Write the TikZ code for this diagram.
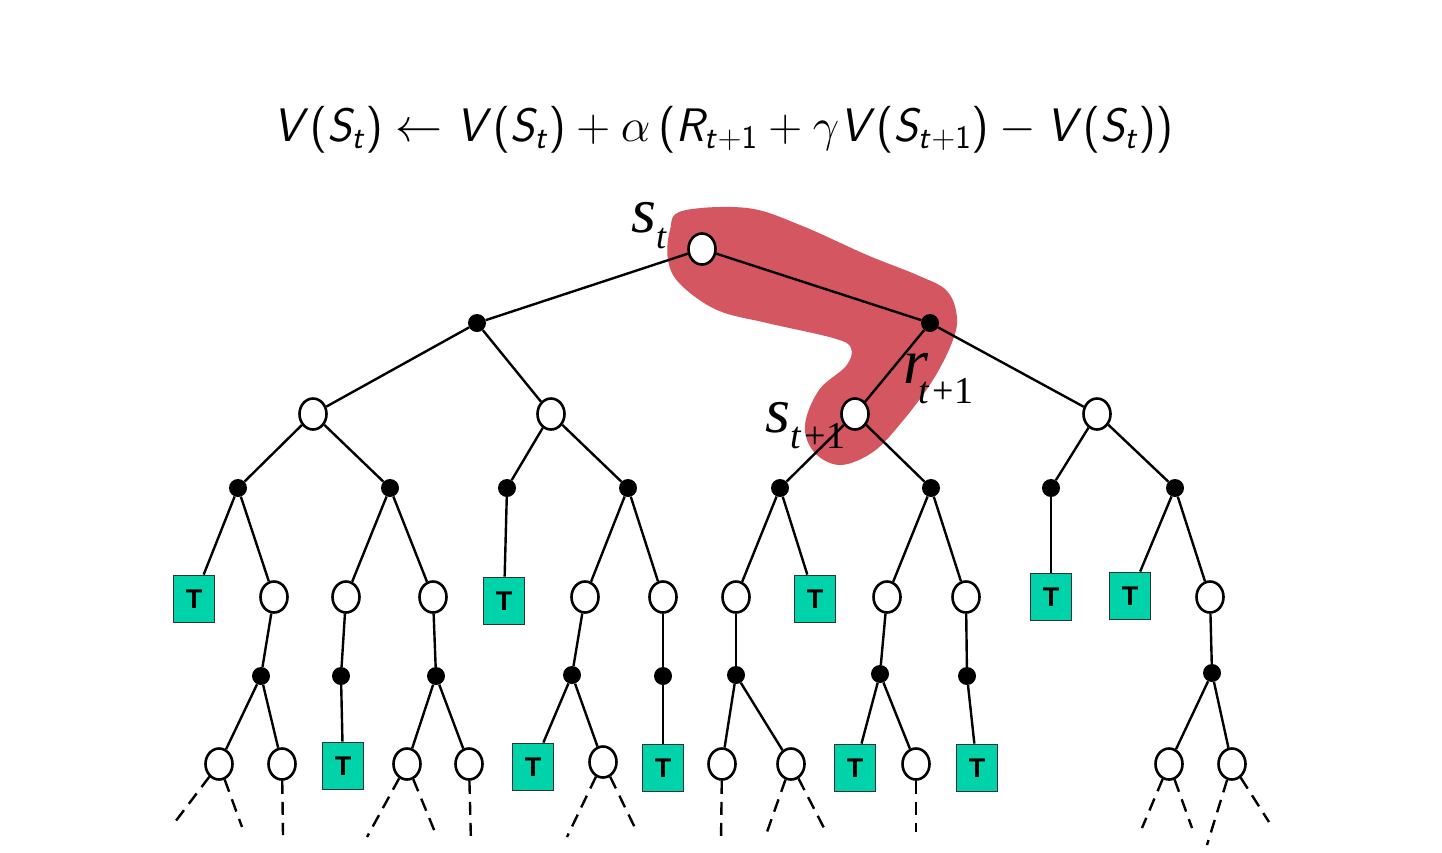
\RequirePackage{fix-cm}
\documentclass[tikz,border=0pt]{standalone}
\usepackage{amsmath}
\usepackage[no-math]{fontspec}
\newfontfamily\tms{Liberation Serif}
\newfontfamily\arl{Liberation Sans}
\usetikzlibrary{shapes.geometric}
\DeclareMathAlphabet{\mathsfit}{OT1}{cmss}{m}{sl}
\SetSymbolFont{operators}{normal}{OT1}{cmss}{m}{n}
\newcommand\msf[1]{\mathsfit{#1}}
\definecolor{blobred}{HTML}{D45660}
\definecolor{tgreen}{HTML}{00D2AA}
\begin{document}
\begin{tikzpicture}[x=1pt,y=-1pt,
  onode/.style={ellipse,draw=black,line width=2.6pt,fill=white,minimum width=27pt,minimum height=31pt,inner sep=0pt},
  cnode/.style={circle,fill=black,minimum size=18pt,inner sep=0pt},
  tnode/.style={rectangle,draw=black!80,line width=1.8pt,fill=tgreen,minimum width=41pt,minimum height=47pt,inner sep=0pt,font=\arl\bfseries\fontsize{27}{27}\selectfont},
  edge/.style={line width=2.4pt},
  leafdash/.style={line width=2.4pt,dash pattern=on 13pt off 8pt},
  lbl/.style={inner sep=0pt,font=\tms}]
\useasboundingbox (0,0) rectangle (1442,852);
% formula
\node[anchor=base,inner sep=0pt] (formula) at (723,141) {\fontsize{47}{52}\selectfont
$\msf{V}(\msf{S}_{\msf{t}}) \leftarrow \msf{V}(\msf{S}_{\msf{t}}) + \alpha\,(\msf{R}_{\msf{t}+1} + \gamma \msf{V}(\msf{S}_{\msf{t}+1}) - \msf{V}(\msf{S}_{\msf{t}}))$};
% highlighted blob
\fill[blobred] plot[smooth cycle,tension=0.6] coordinates {(682,211) (747,208) (800,225) (867,255) (917,275) (947,291) (957,318) (951,345) (931,383) (901,423) (873,452) (840,465) (814,452) (805,425) (819,390) (846,366) (851,348) (833,338) (767,323) (717,310) (680,284) (668,260) (670,230)};
% nodes
\node[onode] (r) at (702,249) {};
\node[cnode] (a1) at (477,323) {};
\node[cnode] (a2) at (930,323) {};
\node[onode] (b1) at (313,414) {};
\node[onode] (b2) at (551,414) {};
\node[onode] (b3) at (855,414) {};
\node[onode] (b4) at (1097,414) {};
\node[cnode] (c1) at (238,488) {};
\node[cnode] (c2) at (390,488) {};
\node[cnode] (c3) at (507,488) {};
\node[cnode] (c4) at (628,488) {};
\node[cnode] (c5) at (780,488) {};
\node[cnode] (c6) at (931,488) {};
\node[cnode] (c7) at (1051,488) {};
\node[cnode] (c8) at (1175,488) {};
\node[tnode] (d1) at (194,599) {T};
\node[onode] (d2) at (274,597) {};
\node[onode] (d3) at (346,597) {};
\node[onode] (d4) at (433,597) {};
\node[tnode] (d5) at (504,601) {T};
\node[onode] (d6) at (585,597) {};
\node[onode] (d7) at (663,597) {};
\node[onode] (d8) at (736,597) {};
\node[tnode] (d9) at (815,599) {T};
\node[onode] (d10) at (887,597) {};
\node[onode] (d11) at (966,597) {};
\node[tnode] (d12) at (1051,597) {T};
\node[tnode] (d13) at (1130,596) {T};
\node[onode] (d14) at (1210,597) {};
\node[cnode] (e1) at (261,676) {};
\node[cnode] (e2) at (341,676) {};
\node[cnode] (e3) at (436,676) {};
\node[cnode] (e4) at (572,675) {};
\node[cnode] (e5) at (663,676) {};
\node[cnode] (e6) at (736,675) {};
\node[cnode] (e7) at (880,674) {};
\node[cnode] (e8) at (967,676) {};
\node[cnode] (e9) at (1212,673) {};
\node[onode] (f1) at (219,764) {};
\node[onode] (f2) at (282,764) {};
\node[tnode] (f3) at (343,766) {T};
\node[onode] (f4) at (407,764) {};
\node[onode] (f5) at (469,764) {};
\node[tnode] (f6) at (533,767) {T};
\node[onode] (f7) at (603,762) {};
\node[tnode] (f8) at (663,768) {T};
\node[onode] (f9) at (722,764) {};
\node[onode] (f10) at (791,764) {};
\node[tnode] (f11) at (855,768) {T};
\node[onode] (f12) at (916,764) {};
\node[tnode] (f13) at (977,768) {T};
\node[onode] (f14) at (1169,764) {};
\node[onode] (f15) at (1232,764) {};
% edges
\foreach \p/\q in {r/a1,r/a2,a1/b1,a1/b2,a2/b3,a2/b4,
  b1/c1,b1/c2,b2/c3,b2/c4,b3/c5,b3/c6,b4/c7,b4/c8,
  c1/d1,c1/d2,c2/d3,c2/d4,c3/d5,c4/d6,c4/d7,c5/d8,c5/d9,c6/d10,c6/d11,c7/d12,c8/d13,c8/d14,
  d2/e1,d3/e2,d4/e3,d6/e4,d7/e5,d8/e6,d10/e7,d11/e8,d14/e9,
  e1/f1,e1/f2,e2/f3,e3/f4,e3/f5,e4/f6,e4/f7,e5/f8,e6/f9,e6/f10,e7/f11,e7/f12,e8/f13,e9/f14,e9/f15}
  \draw[edge] (\p) -- (\q);
% dashed continuations
\coordinate (g1a) at (175,822); \coordinate (g1b) at (242,827);
\coordinate (g2) at (283,835);
\coordinate (g4a) at (367,837); \coordinate (g4b) at (437,837);
\coordinate (g5) at (471,843);
\coordinate (g7a) at (567,837); \coordinate (g7b) at (637,832);
\coordinate (g9) at (721,842);
\coordinate (g10a) at (767,832); \coordinate (g10b) at (824,828);
\coordinate (g12) at (916,832);
\coordinate (g14a) at (1142,828); \coordinate (g14b) at (1192,828);
\coordinate (g15a) at (1207,845); \coordinate (g15b) at (1269,822);
\foreach \p/\q in {f1/g1a,f1/g1b,f2/g2,f4/g4a,f4/g4b,f5/g5,f7/g7a,f7/g7b,f9/g9,f10/g10a,f10/g10b,f12/g12,f14/g14a,f14/g14b,f15/g15a,f15/g15b}
  \draw[leafdash] (\p) -- (\q);
% labels
\node[lbl,anchor=base west] (lst) at (631,232) {\fontsize{64}{64}\selectfont\itshape s\raisebox{-16pt}{\fontsize{36}{36}\selectfont t}};
\node[lbl,anchor=base west] (lrt) at (903,383) {\fontsize{64}{64}\selectfont\itshape r\kern-10pt\raisebox{-20pt}{\fontsize{38}{38}\selectfont t\kern4pt\upshape+1}};
\node[lbl,anchor=base west] (lst1) at (765,432) {\fontsize{64}{64}\selectfont\itshape s\raisebox{-16pt}{\fontsize{38}{38}\selectfont t\kern4pt\upshape+1}};
\end{tikzpicture}
\end{document}
